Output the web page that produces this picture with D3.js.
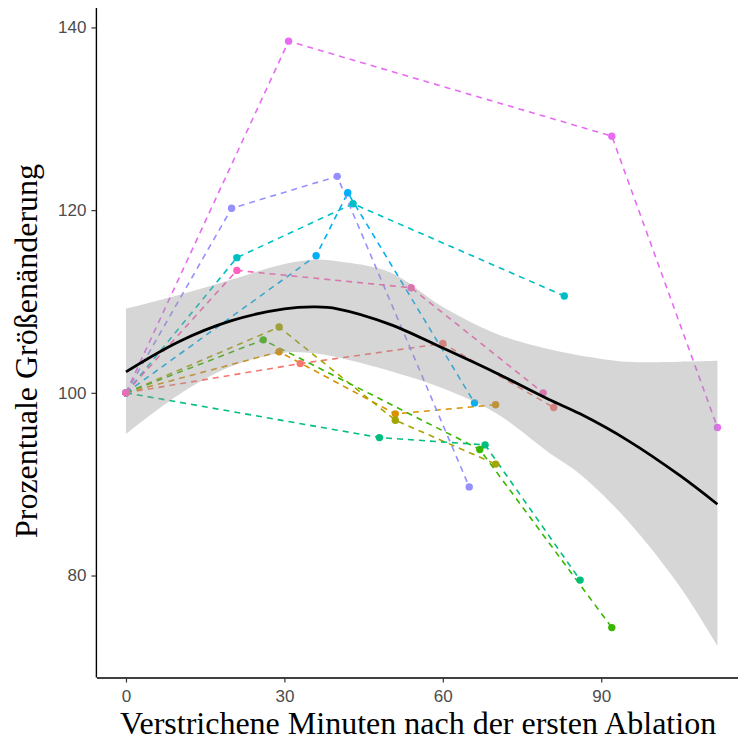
<!DOCTYPE html>
<html>
<head>
<meta charset="utf-8">
<script src="https://cdn.jsdelivr.net/npm/d3@7"></script>
<style>
  body { margin: 0; background: #fff; }
  svg { display: block; }
</style>
</head>
<body>
<svg id="chart"></svg>
<script>
// one dashed track per lesion: minutes after first ablation / size change in %
const groups = ["L1", "L2", "L3", "L4", "L5", "L6", "L7", "L8", "L9", "L10"];
const colors = ["#F8766D", "#D89000", "#A3A500", "#39B600", "#00BF7D",
                "#00BFC4", "#00B0F6", "#9590FF", "#E76BF3", "#FF62BC"];
const minutes = [
  [0, 33, 60, 81],
  [0, 29, 51, 70],
  [0, 29, 51, 70],
  [0, 26, 67, 92],
  [0, 48, 68, 86],
  [0, 21, 43, 83],
  [0, 36, 42, 66],
  [0, 20, 40, 65],
  [0, 30.8, 92, 112],
  [0, 21, 54, 79],
];
const values = [
  [100, 103.2, 105.4, 98.4],
  [100, 104.5, 97.7, 98.7],
  [100, 107.2, 97.0, 92.2],
  [100, 105.8, 93.8, 74.3],
  [100, 95.1, 94.3, 79.5],
  [100, 114.8, 120.7, 110.6],
  [100, 115.0, 121.9, 98.9],
  [100, 120.2, 123.7, 89.7],
  [100, 138.5, 128.1, 96.2],
  [100, 113.4, 111.5, 100.0],
];

// smoother and its confidence band
const smoothX = [0, 10, 20, 30, 36, 40, 50, 60, 70, 80, 86, 95, 105, 112];
const smoothFit = [102.3, 105.6, 107.9, 109.2, 109.4, 109.2, 107.5, 104.9, 102.2, 99.3, 97.7, 94.8, 90.9, 87.8];
const smoothLower = [95.5, 99.8, 102.9, 104.4, 104.3, 103.9, 102.4, 100.5, 97.8, 93.5, 91.1, 86.0, 78.7, 72.3];
const smoothUpper = [109.2, 110.7, 112.4, 114.1, 114.6, 114.4, 113.2, 109.4, 106.5, 104.8, 104.1, 103.4, 103.4, 103.5];

const xTicks = [0, 30, 60, 90];
const yTicks = [80, 100, 120, 140];

const width = 738, height = 742;
const svg = d3.select("#chart").attr("width", width).attr("height", height);

const x = d3.scaleLinear().domain([-5.6, 117.6]).range([96.4, 747]);
const y = d3.scaleLinear().domain([69, 141.8]).range([676, 11]);

const series = groups.map((g, i) => ({
  name: g,
  color: colors[i],
  pts: minutes[i].map((m, j) => ({ x: m, y: values[i][j] })),
}));

const plot = svg.append("g");

// tracks
const line = d3.line().x((d) => x(d.x)).y((d) => y(d.y));
plot.selectAll("path.track")
  .data(series)
  .join("path")
  .attr("class", "track")
  .attr("d", (d) => line(d.pts))
  .attr("fill", "none")
  .attr("stroke", (d) => d.color)
  .attr("stroke-width", 1.6)
  .attr("stroke-dasharray", "6,5");

series.forEach((s) => {
  plot.selectAll(null)
    .data(s.pts)
    .join("circle")
    .attr("cx", (d) => x(d.x))
    .attr("cy", (d) => y(d.y))
    .attr("r", 3.7)
    .attr("fill", s.color);
});

// smoother band on top, translucent like geom_smooth
const band = smoothX.map((v, i) => ({ x: v, lo: smoothLower[i], hi: smoothUpper[i], fit: smoothFit[i] }));
plot.append("path")
  .attr("d", d3.area().curve(d3.curveCatmullRom)
    .x((d) => x(d.x)).y0((d) => y(d.lo)).y1((d) => y(d.hi))(band))
  .attr("fill", "#999999")
  .attr("fill-opacity", 0.4);

plot.append("path")
  .attr("d", d3.line().curve(d3.curveCatmullRom)
    .x((d) => x(d.x)).y((d) => y(d.fit))(band))
  .attr("fill", "none")
  .attr("stroke", "#000")
  .attr("stroke-width", 2.8);

// axes
const xAxis = d3.axisBottom(x).tickValues(xTicks).tickSize(5).tickPadding(7).tickSizeOuter(0);
const yAxis = d3.axisLeft(y).tickValues(yTicks).tickSize(5).tickPadding(5).tickSizeOuter(0);

const gx = svg.append("g").attr("transform", `translate(0, ${y.range()[0] + 1.5})`).call(xAxis);
const gy = svg.append("g").attr("transform", `translate(${x.range()[0]}, 0)`).call(yAxis);

[gx, gy].forEach((g) => {
  g.select(".domain").attr("stroke", "#000").attr("stroke-width", 1.4);
  g.selectAll(".tick line").attr("stroke", "#333").attr("stroke-width", 1.2);
  g.selectAll(".tick text")
    .attr("fill", "#4D4D4D")
    .style("font-family", "'Liberation Sans', Arial, sans-serif")
    .style("font-size", "17px");
});
gy.select(".domain").attr("d", `M0,${y.range()[1] - 3}V${y.range()[0] + 1.5}`);

svg.append("text")
  .attr("x", 418)
  .attr("y", 734)
  .attr("text-anchor", "middle")
  .style("font-family", "'Liberation Serif', 'Times New Roman', serif")
  .style("font-size", "32px")
  .attr("fill", "#000")
  .text("Verstrichene Minuten nach der ersten Ablation");

svg.append("text")
  .attr("transform", "translate(37, 351) rotate(-90)")
  .attr("text-anchor", "middle")
  .style("font-family", "'Liberation Serif', 'Times New Roman', serif")
  .style("font-size", "32px")
  .attr("fill", "#000")
  .text("Prozentuale Größenänderung");
</script>
</body>
</html>
